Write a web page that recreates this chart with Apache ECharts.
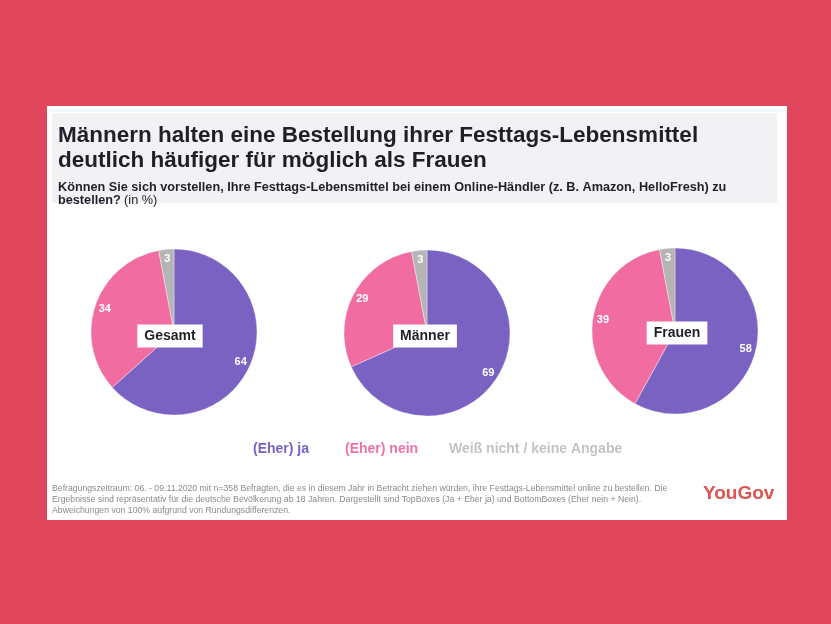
<!DOCTYPE html>
<html>
<head>
<meta charset="utf-8">
<script src="https://cdn.jsdelivr.net/npm/echarts@6/dist/echarts.min.js"></script>
<style>
  html, body { margin: 0; padding: 0; background: #e0465b; }
  #chart { width: 831px; height: 624px; }
</style>
</head>
<body>
<div id="chart"></div>
<script>
// ---- data ----
const categories = ['(Eher) ja', '(Eher) nein', 'Weiß nicht / keine Angabe'];
const groups = ['Gesamt', 'Männer', 'Frauen'];
const gesamtValues = [64, 34, 3];
const maennerValues = [69, 29, 3];
const frauenValues = [58, 39, 3];
const titleLines = ['Männern halten eine Bestellung ihrer Festtags-Lebensmittel', 'deutlich häufiger für möglich als Frauen'];
const subtitleLines = ['Können Sie sich vorstellen, Ihre Festtags-Lebensmittel bei einem Online-Händler (z. B. Amazon, HelloFresh) zu', 'bestellen?'];
const subtitleUnit = '(in %)';
const footnoteLines = [
  'Befragungszeitraum: 06. - 09.11.2020 mit n=358 Befragten, die es in diesem Jahr in Betracht ziehen würden, ihre Festtags-Lebensmittel online zu bestellen. Die',
  'Ergebnisse sind repräsentativ für die deutsche Bevölkerung ab 18 Jahren. Dargestellt sind TopBoxes (Ja + Eher ja) und BottomBoxes (Eher nein + Nein).',
  'Abweichungen von 100% aufgrund von Rundungsdifferenzen.'
];
const brand = 'YouGov';

// ---- styles ----
const colors = ['#7a62c3', '#f06ca1', '#b5b5b5'];
const legendColors = ['#7a62c3', '#ef72a6', '#c3c3c3'];
const FONT = "'Liberation Sans', Arial, Helvetica, sans-serif";
const centers = [[174, 332], [427, 333], [675, 331]];
const R = 83;
const valueSets = [gesamtValues, maennerValues, frauenValues];

const series = [];
valueSets.forEach((vals, gi) => {
  const data = categories.map((c, i) => ({ name: c, value: vals[i], itemStyle: { color: colors[i] } }));
  series.push({
    type: 'pie',
    name: groups[gi],
    center: centers[gi],
    radius: [0, R],
    startAngle: 90,
    clockwise: true,
    silent: true,
    label: { show: false },
    labelLine: { show: false },
    itemStyle: { borderColor: 'rgba(255,255,255,0.6)', borderWidth: 0.6 },
    data: data
  });
  series.push({
    type: 'pie',
    name: groups[gi] + '-labels',
    center: centers[gi],
    radius: [R - 26, R],
    startAngle: 90,
    clockwise: true,
    silent: true,
    itemStyle: { color: 'transparent' },
    label: {
      show: true, position: 'inside', formatter: '{c}',
      color: '#ffffff', fontFamily: FONT, fontWeight: 'bold', fontSize: 11
    },
    labelLine: { show: false },
    data: categories.map((c, i) => ({ name: c, value: vals[i], itemStyle: { color: 'transparent' } }))
  });
});

const groupLabelPos = [[170, 336], [425, 336], [677, 333]];
const legendLefts = [242, 334, 438];

const option = {
  backgroundColor: '#e0465b',
  animation: false,
  legend: categories.map((c, i) => ({
    left: legendLefts[i], top: 437,
    itemWidth: 0, itemHeight: 0,
    icon: 'rect',
    selectedMode: false,
    data: [{
      name: c,
      itemStyle: { color: 'transparent' },
      textStyle: { color: legendColors[i], fontFamily: FONT, fontWeight: 'bold', fontSize: 14 }
    }]
  })),
  graphic: [
    { type: 'rect', z: -10, shape: { x: 47, y: 106, width: 740, height: 414 }, style: { fill: '#ffffff' } },
    { type: 'rect', z: -9, shape: { x: 52, y: 113, width: 725, height: 90 }, style: { fill: '#f2f2f5' } },
    {
      type: 'text', left: 58, top: 123,
      style: {
        text: titleLines.join('\n'),
        font: "bold 22.5px " + FONT, fill: '#1f1f28', lineHeight: 25
      }
    },
    {
      type: 'text', left: 58, top: 181,
      style: {
        text: '{b|' + subtitleLines[0] + '}\n{b|' + subtitleLines[1] + '} {n|' + subtitleUnit + '}',
        fill: '#1f1f28', lineHeight: 13,
        rich: {
          b: { fontFamily: FONT, fontWeight: 'bold', fontSize: 12.7, fill: '#1f1f28', lineHeight: 13 },
          n: { fontFamily: FONT, fontWeight: 'normal', fontSize: 12.7, fill: '#1f1f28', lineHeight: 13 }
        }
      }
    },
    ...groups.map((g, i) => ({
      type: 'text', z: 100,
      x: groupLabelPos[i][0], y: groupLabelPos[i][1],
      style: {
        text: g, align: 'center', verticalAlign: 'middle',
        font: "bold 14px " + FONT, fill: '#1f1f28',
        backgroundColor: '#ffffff', padding: [5, 7, 4, 7]
      }
    })),
    {
      type: 'text', left: 52, top: 483,
      style: {
        text: footnoteLines.join('\n'),
        font: "8.7px " + FONT, fill: '#8a8a8a', lineHeight: 11
      }
    },
    {
      type: 'text', left: 703, top: 484,
      style: { text: brand, font: "bold 19px " + FONT, fill: '#e0524f' }
    }
  ],
  series: series
};

const chart = echarts.init(document.getElementById('chart'), null, { renderer: 'canvas' });
chart.setOption(option);
</script>
</body>
</html>
